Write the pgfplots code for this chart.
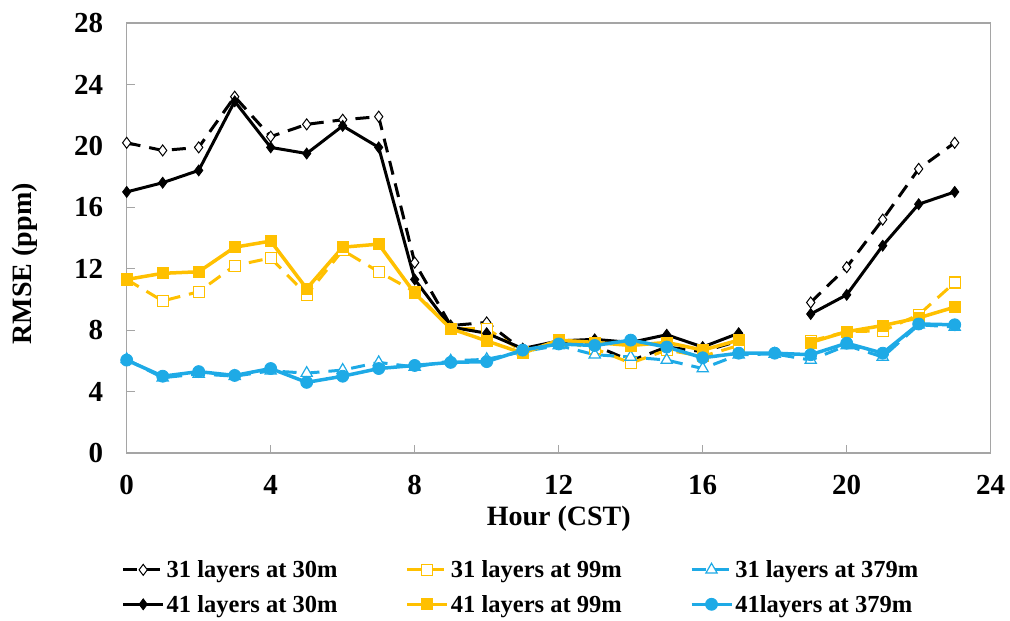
\documentclass[border=0pt]{standalone}
\usepackage{fontspec}
\setmainfont{Liberation Serif}
\usepackage{pgfplots}
\pgfplotsset{compat=1.18}
\usepackage{pgfplotstable}
\definecolor{gold}{RGB}{255,192,0}
\definecolor{sky}{RGB}{30,170,230}
\definecolor{framegray}{RGB}{165,165,165}

\pgfplotstableread{
h  a     b     c     d     e     f
0  20.2  17.0  11.3  11.3  6.1   6.05
1  19.7  17.6  9.9   11.7  4.9   5.0
2  19.9  18.4  10.5  11.8  5.15  5.3
3  23.2  22.9  12.2  13.4  5.0   5.05
4  20.6  19.9  12.7  13.8  5.35  5.5
5  21.4  19.5  10.3  10.7  5.2   4.6
6  21.7  21.3  13.2  13.4  5.4   5.0
7  21.9  19.9  11.8  13.6  5.9   5.5
8  12.4  11.3  10.5  10.4  5.6   5.7
9  8.3   8.2   8.1   8.1   6.0   5.9
10 8.5   7.8   8.1   7.3   6.1   5.95
11 6.7   6.8   6.6   6.5   6.6   6.7
12 7.2   7.3   7.3   7.35  7.0   7.1
13 7.0   7.4   6.8   7.2   6.4   7.0
14 6.0   7.2   5.85  7.0   6.25  7.35
15 6.9   7.7   6.7   7.2   6.05  6.9
16 6.6   6.9   6.3   6.7   5.5   6.2
17 7.3   7.8   7.0   7.35  6.4   6.5
18 nan   nan   nan   nan   6.45  6.5
19 9.8   9.05  7.3   7.2   6.05  6.4
20 12.1  10.3  7.9   7.9   7.0   7.15
21 15.2  13.5  7.95  8.3   6.25  6.5
22 18.5  16.2  9.0   8.8   8.35  8.4
23 20.2  17.0  11.1  9.5   8.2   8.35
}\data

\begin{document}
\begin{tikzpicture}[x=1pt,y=1pt]
\begin{axis}[
  at={(0,0)}, anchor=south west,
  scale only axis, width=864pt, height=430pt,
  xmin=0, xmax=24, ymin=0, ymax=28,
  xtick={0,4,...,24}, ytick={0,4,...,28},
  tick align=inside, tick pos=left, major tick length=8pt,
  axis line style={framegray, line width=1.2pt},
  every tick/.style={framegray, line width=1pt},
  clip=false,
  unbounded coords=jump,
  /pgf/number format/assume math mode=true,
  ticklabel style={font=\fontsize{29}{33}\selectfont\bfseries},
  xticklabel style={yshift=-19pt},
  yticklabel style={xshift=-20pt},
  label style={font=\fontsize{28}{32}\selectfont\bfseries},
  xlabel={Hour (CST)},
  ylabel={RMSE (ppm)},
  xlabel style={at={(axis description cs:0.5,0)}, anchor=center, yshift=-66pt},
  ylabel style={at={(axis description cs:-0.1175,0.44)}, anchor=center},
  legend columns=3,
  legend cell align=left,
  legend style={draw=none, fill=none, at={(-0.006,-0.245)}, anchor=north west,
    font=\fontsize{24.5}{28}\selectfont\bfseries, inner sep=0pt, row sep=12pt,
    /tikz/every even column/.append style={column sep=66pt}},
  legend image code/.code={\draw[mark repeat=2,mark phase=2,#1] plot coordinates {(0pt,0pt) (20pt,0pt) (40pt,0pt)};},
]
\addplot[black, line width=3pt, dash pattern=on 14pt off 9pt, mark=diamond*, mark size=5.5pt,
  mark options={solid, fill=white, draw=black, line width=1pt}] table[x=h,y=a] {\data};
\addlegendentry{31 layers at 30m}
\addplot[gold, line width=3pt, dash pattern=on 14pt off 9pt, mark=square*, mark size=5.5pt,
  mark options={solid, fill=white, draw=gold, line width=1.2pt}] table[x=h,y=c] {\data};
\addlegendentry{31 layers at 99m}
\addplot[sky, line width=3pt, dash pattern=on 14pt off 9pt, mark=triangle*, mark size=6.5pt,
  mark options={solid, fill=white, draw=sky, line width=1.2pt}] table[x=h,y=e] {\data};
\addlegendentry{31 layers at 379m}
\addplot[black, line width=3pt, mark=diamond*, mark size=5.5pt,
  mark options={solid, fill=black, line width=0.8pt}] table[x=h,y=b] {\data};
\addlegendentry{41 layers at 30m}
\addplot[gold, line width=3.5pt, mark=square*, mark size=5.5pt,
  mark options={solid, fill=gold, line width=0.8pt}] table[x=h,y=d] {\data};
\addlegendentry{41 layers at 99m}
\addplot[sky, line width=3.5pt, mark=*, mark size=6pt,
  mark options={solid, fill=sky, line width=0.8pt}] table[x=h,y=f] {\data};
\addlegendentry{41layers at 379m}
\end{axis}
\pgfresetboundingbox
\path[use as bounding box] (-126.7,-168) rectangle (883.3,453);
\end{tikzpicture}
\end{document}
